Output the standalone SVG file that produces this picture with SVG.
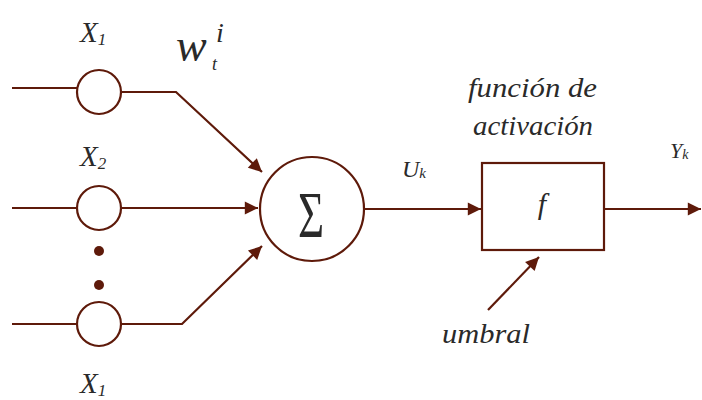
<svg xmlns="http://www.w3.org/2000/svg" width="702" height="400" viewBox="0 0 702 400">
<style>
.ln{fill:none;stroke:#5e1a0a;stroke-width:2.2}
.nd{fill:#fff;stroke:#5e1a0a;stroke-width:2.2}
.t{font-family:"Liberation Serif","DejaVu Serif",serif;font-style:italic;fill:#2a2a2a}
.dot{fill:#5e1a0a}
</style>
<defs>
<marker id="ah" viewBox="0 0 10 10" refX="10" refY="5" markerWidth="7" markerHeight="6" markerUnits="strokeWidth" orient="auto">
<path d="M0,0 L10,5 L0,10 z" fill="#5e1a0a"/>
</marker>
</defs>
<rect width="702" height="400" fill="#fff"/>
<g id="connectors">
<line class="ln" x1="12" y1="88" x2="77" y2="88"/>
<polyline class="ln" points="121,92 176,92 262,172" marker-end="url(#ah)"/>
<line class="ln" x1="12" y1="208" x2="77" y2="208"/>
<line class="ln" x1="121" y1="208" x2="258" y2="208" marker-end="url(#ah)"/>
<line class="ln" x1="12" y1="324" x2="77" y2="324"/>
<polyline class="ln" points="121,324 182,324 262,246" marker-end="url(#ah)"/>
<line class="ln" x1="364" y1="209" x2="481" y2="209" marker-end="url(#ah)"/>
<line class="ln" x1="604" y1="209" x2="701" y2="209" marker-end="url(#ah)"/>
<line class="ln" x1="488" y1="310" x2="539" y2="257" marker-end="url(#ah)"/>
</g>
<g id="x1">
<circle class="nd" cx="99" cy="92" r="22"/>
<text class="t" x="80" y="42" font-size="29">X<tspan font-size="17" dy="3">1</tspan></text>
</g>
<g id="x2">
<circle class="nd" cx="99" cy="208" r="22"/>
<text class="t" x="80" y="166" font-size="29">X<tspan font-size="17" dy="3">2</tspan></text>
</g>
<g id="dots">
<circle class="dot" cx="99" cy="251" r="5"/>
<circle class="dot" cx="99" cy="285" r="5"/>
</g>
<g id="xn">
<circle class="nd" cx="99" cy="324" r="22"/>
<text class="t" x="80" y="393" font-size="29">X<tspan font-size="17" dy="3">1</tspan></text>
</g>
<g id="weight">
<text class="t" x="176" y="61" font-size="46">w</text>
<text class="t" x="216" y="42" font-size="28">i</text>
<text class="t" x="212" y="70" font-size="18">t</text>
</g>
<g id="sum">
<circle class="nd" cx="312" cy="209" r="52"/>
<text x="0" y="0" font-size="66" text-anchor="middle" font-family="Liberation Serif,DejaVu Serif,serif" fill="#2a2a2a" transform="translate(311,237) scale(0.68,1)">Σ</text>
</g>
<g id="uk">
<text class="t" x="402" y="177" font-size="24">U<tspan font-size="15" dy="1">k</tspan></text>
</g>
<g id="activation">
<rect class="nd" x="482" y="163" width="122" height="87"/>
<text class="t" x="542" y="214" font-size="30" text-anchor="middle">f</text>
<text class="t" x="468" y="97" font-size="28" textLength="129" lengthAdjust="spacingAndGlyphs">función de</text>
<text class="t" x="473" y="135" font-size="28" textLength="120" lengthAdjust="spacingAndGlyphs">activación</text>
</g>
<g id="yk">
<text class="t" x="670" y="158" font-size="22">Y<tspan font-size="14" dy="1">k</tspan></text>
</g>
<g id="umbral">
<text class="t" x="442" y="343" font-size="28" textLength="88" lengthAdjust="spacingAndGlyphs">umbral</text>
</g>
</svg>
